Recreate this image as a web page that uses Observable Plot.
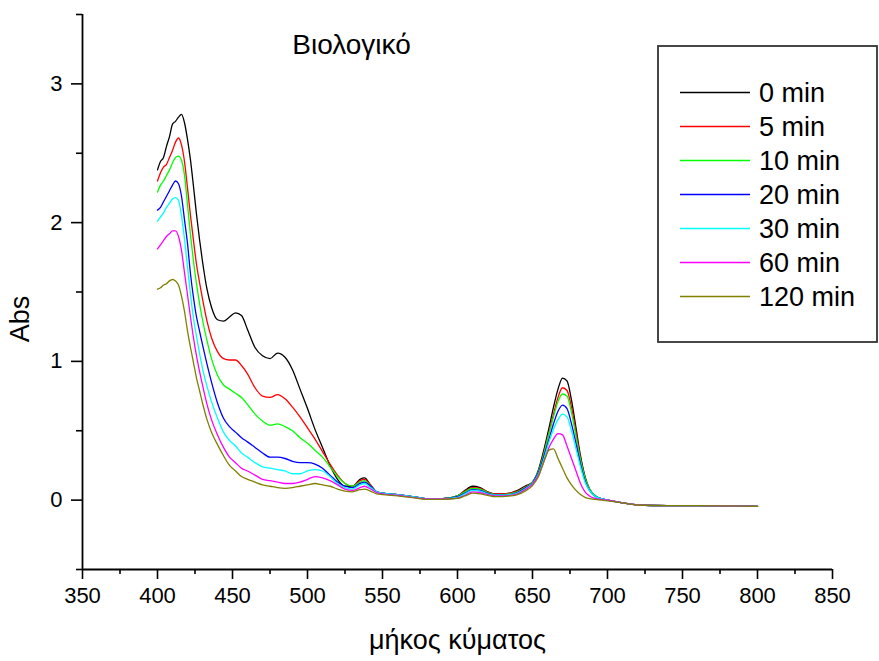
<!DOCTYPE html>
<html>
<head>
<meta charset="utf-8">
<script src="https://cdn.jsdelivr.net/npm/d3@7"></script>
<script src="https://cdn.jsdelivr.net/npm/@observablehq/plot@0.6"></script>
<style>
  body { margin: 0; background: #fff; font-family: "Liberation Sans", Arial, sans-serif; }
  #chart { position: relative; width: 879px; height: 661px; }
  #chart svg.legend { position: absolute; left: 657px; top: 45px; }
  #chart g[aria-label="x-axis tick label"] text,
  #chart g[aria-label="y-axis tick label"] text { font-size: 22px; }
</style>
</head>
<body>
<div id="chart"></div>
<script>
// Absorption spectra (wavelength in nm) recorded at several times
const wavelength = [
  400, 402, 404, 406, 408, 410, 412, 414, 416, 418,
  420, 422, 424, 426, 428, 430, 433, 436, 440, 444,
  448, 452, 456, 460, 465, 470, 475, 480, 485, 490,
  495, 500, 505, 510, 515, 520, 525, 530, 535, 538,
  542, 546, 550, 560, 570, 580, 590, 600, 605, 610,
  615, 620, 625, 630, 635, 640, 645, 650, 654, 658,
  661, 664, 667, 670, 673, 676, 679, 682, 685, 688,
  692, 696, 700, 710, 720, 740, 760, 780, 800
];

const abs0 = [
  2.38, 2.44, 2.47, 2.55, 2.62, 2.71, 2.73, 2.76, 2.78, 2.72,
  2.60, 2.45, 2.26, 2.06, 1.88, 1.72, 1.52, 1.39, 1.30, 1.29,
  1.32, 1.35, 1.33, 1.23, 1.10, 1.04, 1.02, 1.06, 1.03, 0.94,
  0.80, 0.66, 0.51, 0.38, 0.25, 0.15, 0.10, 0.10, 0.15, 0.16,
  0.11, 0.06, 0.05, 0.04, 0.025, 0.01, 0.01, 0.03, 0.07, 0.10,
  0.09, 0.06, 0.045, 0.045, 0.05, 0.07, 0.10, 0.13, 0.22, 0.38,
  0.52, 0.67, 0.80, 0.88, 0.86, 0.72, 0.52, 0.32, 0.17, 0.08,
  0.03, 0.01, 0.0, -0.02, -0.035, -0.04, -0.04, -0.042, -0.045
];

const abs5 = [
  2.30, 2.36, 2.40, 2.42, 2.47, 2.52, 2.58, 2.61, 2.56, 2.44,
  2.25, 2.05, 1.87, 1.70, 1.57, 1.45, 1.29, 1.17, 1.07, 1.02,
  1.01, 1.01, 0.97, 0.91, 0.81, 0.75, 0.74, 0.76, 0.73, 0.67,
  0.60, 0.52, 0.44, 0.35, 0.26, 0.18, 0.12, 0.10, 0.14, 0.15,
  0.11, 0.06, 0.05, 0.04, 0.025, 0.01, 0.01, 0.03, 0.065, 0.09,
  0.085, 0.06, 0.045, 0.045, 0.05, 0.065, 0.095, 0.13, 0.21, 0.36,
  0.49, 0.62, 0.74, 0.81, 0.79, 0.67, 0.49, 0.30, 0.16, 0.08,
  0.03, 0.01, 0.0, -0.02, -0.035, -0.04, -0.04, -0.042, -0.045
];

const abs10 = [
  2.22, 2.27, 2.30, 2.34, 2.38, 2.43, 2.47, 2.48, 2.45, 2.34,
  2.13, 1.91, 1.72, 1.56, 1.42, 1.30, 1.15, 1.02, 0.90, 0.83,
  0.80, 0.77, 0.74, 0.69, 0.62, 0.57, 0.54, 0.55, 0.53, 0.50,
  0.45, 0.41, 0.36, 0.31, 0.24, 0.17, 0.12, 0.10, 0.13, 0.14,
  0.10, 0.06, 0.05, 0.04, 0.025, 0.01, 0.01, 0.03, 0.06, 0.085,
  0.08, 0.055, 0.04, 0.04, 0.045, 0.06, 0.09, 0.13, 0.21, 0.35,
  0.48, 0.60, 0.71, 0.765, 0.75, 0.63, 0.46, 0.29, 0.16, 0.08,
  0.03, 0.01, 0.0, -0.02, -0.035, -0.04, -0.04, -0.042, -0.045
];

const abs20 = [
  2.09, 2.11, 2.15, 2.19, 2.23, 2.27, 2.30, 2.28, 2.19, 2.02,
  1.85, 1.63, 1.46, 1.32, 1.22, 1.12, 0.98, 0.85, 0.70, 0.59,
  0.53, 0.49, 0.45, 0.42, 0.38, 0.34, 0.31, 0.31, 0.30, 0.28,
  0.27, 0.27, 0.26, 0.23, 0.18, 0.13, 0.10, 0.09, 0.12, 0.13,
  0.10, 0.06, 0.05, 0.04, 0.025, 0.01, 0.01, 0.025, 0.05, 0.075,
  0.07, 0.05, 0.035, 0.035, 0.04, 0.055, 0.085, 0.125, 0.20, 0.33,
  0.44, 0.55, 0.64, 0.685, 0.66, 0.55, 0.41, 0.26, 0.14, 0.07,
  0.025, 0.01, 0.0, -0.02, -0.035, -0.04, -0.04, -0.042, -0.045
];

const abs30 = [
  2.01, 2.04, 2.07, 2.11, 2.14, 2.17, 2.18, 2.16, 2.05, 1.88,
  1.68, 1.48, 1.31, 1.18, 1.06, 0.95, 0.82, 0.71, 0.59, 0.49,
  0.43, 0.39, 0.34, 0.31, 0.27, 0.24, 0.23, 0.22, 0.21, 0.19,
  0.19, 0.21, 0.22, 0.21, 0.17, 0.12, 0.09, 0.08, 0.11, 0.12,
  0.09, 0.06, 0.05, 0.04, 0.025, 0.01, 0.01, 0.02, 0.045, 0.07,
  0.065, 0.045, 0.035, 0.035, 0.04, 0.05, 0.08, 0.12, 0.19, 0.31,
  0.42, 0.51, 0.58, 0.62, 0.60, 0.50, 0.37, 0.24, 0.13, 0.07,
  0.025, 0.01, 0.0, -0.02, -0.035, -0.04, -0.04, -0.042, -0.045
];

const abs60 = [
  1.81, 1.84, 1.87, 1.90, 1.92, 1.94, 1.94, 1.90, 1.80, 1.64,
  1.48, 1.32, 1.17, 1.04, 0.93, 0.83, 0.69, 0.58, 0.47, 0.38,
  0.31, 0.27, 0.23, 0.21, 0.18, 0.15, 0.14, 0.13, 0.12, 0.12,
  0.13, 0.15, 0.17, 0.16, 0.14, 0.11, 0.08, 0.07, 0.09, 0.10,
  0.08, 0.055, 0.045, 0.035, 0.02, 0.008, 0.008, 0.015, 0.035, 0.06,
  0.055, 0.04, 0.03, 0.03, 0.035, 0.045, 0.075, 0.115, 0.18, 0.29,
  0.38, 0.44, 0.48, 0.47, 0.39, 0.30, 0.21, 0.12, 0.06, 0.03,
  0.012, 0.005, 0.0, -0.02, -0.035, -0.04, -0.04, -0.042, -0.045
];

const abs120 = [
  1.52, 1.53, 1.55, 1.56, 1.58, 1.59, 1.58, 1.55, 1.47, 1.36,
  1.22, 1.10, 0.99, 0.88, 0.79, 0.70, 0.58, 0.49, 0.40, 0.32,
  0.25, 0.21, 0.17, 0.15, 0.13, 0.11, 0.10, 0.09, 0.085, 0.09,
  0.10, 0.11, 0.12, 0.11, 0.10, 0.08, 0.065, 0.06, 0.075, 0.08,
  0.065, 0.045, 0.04, 0.03, 0.018, 0.006, 0.006, 0.012, 0.03, 0.05,
  0.045, 0.035, 0.025, 0.025, 0.03, 0.04, 0.065, 0.105, 0.17, 0.29,
  0.36, 0.37, 0.30, 0.23, 0.16, 0.11, 0.07, 0.04, 0.02, 0.01,
  0.005, 0.0, -0.005, -0.02, -0.035, -0.04, -0.04, -0.042, -0.045
];

const seriesLabels = ["0 min", "5 min", "10 min", "20 min", "30 min", "60 min", "120 min"];
const seriesColors = ["#000000", "#ff0000", "#00ff00", "#0000ff", "#00ffff", "#ff00ff", "#808000"];
const seriesValues = [abs0, abs5, abs10, abs20, abs30, abs60, abs120];

const xDomain = [350, 850];
const yDomain = [-0.5, 3.5];
const xMajorTicks = [350, 400, 450, 500, 550, 600, 650, 700, 750, 800, 850];
const xMinorTicks = [375, 425, 475, 525, 575, 625, 675, 725, 775, 825];
const yMajorTicks = [0, 1, 2, 3];
const yMinorTicks = [-0.5, 0.5, 1.5, 2.5, 3.5];

const titleText = "Βιολογικό";
const xLabel = "μήκος κύματος";
const yLabel = "Abs";

// long table: one row per (series, wavelength)
const rows = seriesValues.flatMap((vals, i) =>
  vals.map((v, j) => ({ wl: wavelength[j], abs: v, series: seriesLabels[i] }))
);

const font = "Liberation Sans, Arial, sans-serif";

const chart = Plot.plot({
  width: 879,
  height: 661,
  marginLeft: 82,
  marginRight: 47,
  marginTop: 14,
  marginBottom: 92,
  style: { fontFamily: font, fontSize: "22px", color: "#000", background: "#fff", overflow: "visible" },
  x: { domain: xDomain },
  y: { domain: yDomain },
  color: { domain: seriesLabels, range: seriesColors },
  marks: [
    Plot.axisX({ ticks: xMajorTicks, tickSize: 10, tickPadding: 8, strokeWidth: 1.6, label: null, tickFormat: d => String(d) }),
    Plot.axisX({ ticks: xMinorTicks, tickSize: 5, strokeWidth: 1.6, tickFormat: () => "", label: null }),
    Plot.axisY({ ticks: yMajorTicks, tickSize: 11, tickPadding: 9, strokeWidth: 1.6, label: null, tickFormat: d => String(d) }),
    Plot.axisY({ ticks: yMinorTicks, tickSize: 6, strokeWidth: 1.6, tickFormat: () => "", label: null }),
    Plot.ruleX([xDomain[0]], { strokeWidth: 1.8 }),
    Plot.ruleY([yDomain[0]], { strokeWidth: 1.8 }),
    Plot.line(rows, {
      x: "wl", y: "abs", z: "series", stroke: "series",
      strokeWidth: 1.3, curve: "monotone-x"
    }),
    Plot.text([titleText], { frameAnchor: "top-left", dx: 269, dy: 31, textAnchor: "middle", lineAnchor: "middle", fontSize: 28 }),
    Plot.text([xLabel], { frameAnchor: "bottom", dy: 71, textAnchor: "middle", lineAnchor: "middle", fontSize: 27 }),
    Plot.text([yLabel], { frameAnchor: "left", dx: -62, dy: 27, rotate: -90, textAnchor: "middle", lineAnchor: "middle", fontSize: 27 })
  ]
});

const root = document.getElementById("chart");
root.append(chart);

// legend box
const legW = 221, legH = 298;
const legend = d3.select(root).append("svg")
  .attr("class", "legend")
  .attr("width", legW)
  .attr("height", legH)
  .style("font-family", font);

legend.append("rect")
  .attr("x", 1).attr("y", 1)
  .attr("width", legW - 2).attr("height", legH - 2)
  .attr("fill", "#fff").attr("stroke", "#333").attr("stroke-width", 1.8);

const item = legend.selectAll("g.item")
  .data(seriesLabels)
  .join("g")
  .attr("class", "item")
  .attr("transform", (d, i) => `translate(0,${47.5 + i * 34})`);

item.append("line")
  .attr("x1", 23).attr("x2", 93)
  .attr("stroke", (d, i) => seriesColors[i])
  .attr("stroke-width", 1.3);

item.append("text")
  .attr("x", 102)
  .attr("dy", "0.35em")
  .attr("font-size", 27)
  .text(d => d);
</script>
</body>
</html>
